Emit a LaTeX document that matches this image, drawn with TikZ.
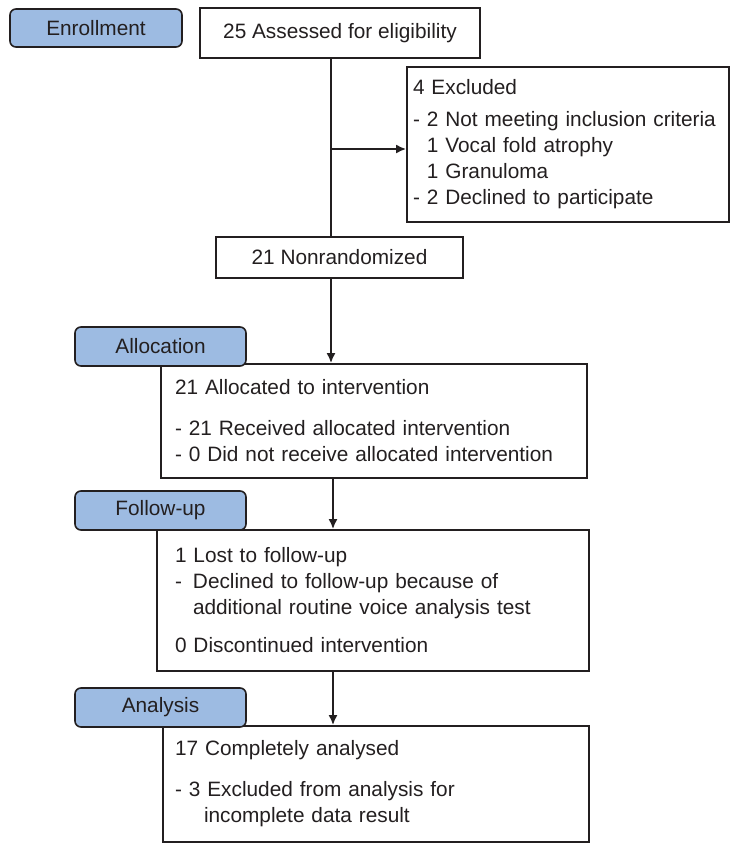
\documentclass[tikz,border=0pt]{standalone}
\usepackage{fontspec}
\setmainfont{Liberation Sans}
\usetikzlibrary{arrows.meta}
\definecolor{stagefill}{RGB}{157,187,226}
\definecolor{inkgray}{RGB}{35,31,32}

\begin{document}
\begin{tikzpicture}[x=1pt, y=-1pt,
        font=\fontsize{10.4}{13}\selectfont, text=inkgray,
        >={Latex[length=5pt,width=4.5pt]},
        flowbox/.style={draw=inkgray, line width=0.9pt, fill=white, inner ysep=0pt, align=left},
        stagebox/.style={draw=inkgray, line width=0.8pt, fill=stagefill, rounded corners=3pt,
            minimum width=85.5pt, minimum height=19.5pt, inner sep=0pt},
        link/.style={draw=inkgray, line width=0.9pt}]
    \useasboundingbox (0,0) rectangle (370.5,426);

    % enrollment
    \node[flowbox, align=center, minimum width=140pt, minimum height=25pt, inner xsep=0pt] (assess) at (170,16.5) {25 Assessed for eligibility};
    \node[stagebox, minimum width=86pt, minimum height=19pt] (enroll) at (48,14) {Enrollment};
    \node[flowbox, text width=155pt, inner xsep=3pt, minimum height=77.5pt] (excl) at (284,72.25)
        {4 Excluded\\[3pt]
         - 2 Not meeting inclusion criteria\\
         \phantom{-}\ 1 Vocal fold atrophy\\
         \phantom{-}\ 1 Granuloma\\
         - 2 Declined to participate};
    \node[flowbox, align=center, minimum width=123.5pt, minimum height=20.5pt, inner xsep=0pt] (nonrand) at (169.75,128.75) {21 Nonrandomized};

    % allocation
    \node[flowbox, text width=199pt, inner xsep=7pt, minimum height=57pt] (alloc) at (187,210.5)
        {21 Allocated to intervention\\[7.5pt]
         - 21 Received allocated intervention\\
         - 0 Did not receive allocated intervention};
    \node[stagebox] (alloclab) at (80.25,173.25) {Allocation};

    % follow-up
    \node[flowbox, text width=198pt, inner xsep=9pt, minimum height=70.5pt] (lost) at (186.5,300.25)
        {1 Lost to follow-up\\
         \makebox[9pt][l]{-}Declined to follow-up because of\\
         \hspace*{9pt}additional routine voice analysis test\\[6pt]
         0 Discontinued intervention};
    \node[stagebox] (followlab) at (80.25,255.25) {Follow-up};

    % analysis
    \node[flowbox, text width=201pt, inner xsep=6pt, minimum height=58pt] (analysed) at (188,392)
        {17 Completely analysed\\[7.5pt]
         - 3 Excluded from analysis for\\
         \hspace*{14.5pt}incomplete data result};
    \node[stagebox] (analysislab) at (80.25,353.75) {Analysis};

    % connectors
    \coordinate (trunk) at (165.5,0);
    \coordinate (branch) at (165.5,74.5);
    \coordinate (lower) at (166.5,0);
    \draw[link] (assess.south -| trunk) -- (nonrand.north -| trunk);
    \draw[link, ->] (branch) -- (branch -| excl.west);
    \draw[link, ->] (nonrand.south -| trunk) -- (alloc.north -| trunk);
    \draw[link, ->] (alloc.south -| lower) -- (lost.north -| lower);
    \draw[link, ->] (lost.south -| lower) -- (analysed.north -| lower);
\end{tikzpicture}
\end{document}
